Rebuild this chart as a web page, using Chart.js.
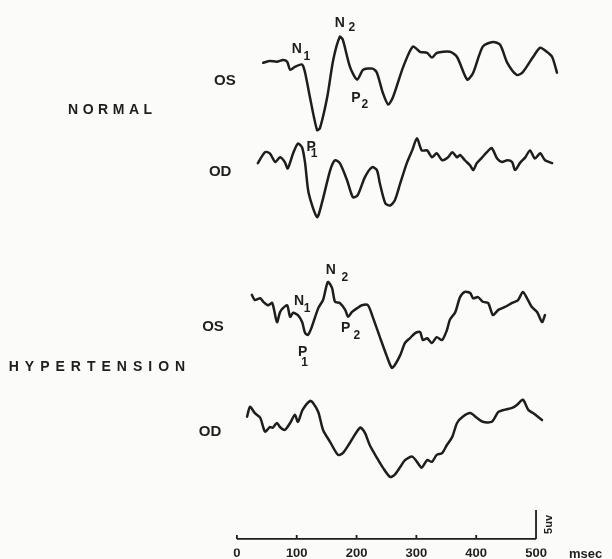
<!DOCTYPE html>
<html>
<head>
<meta charset="utf-8">
<title>VEP - normal vs hypertension</title>
<script src="https://cdn.jsdelivr.net/npm/chart.js@4.4.0/dist/chart.umd.min.js"></script>
<style>
  html, body { margin: 0; padding: 0; background: #fbfbf9; }
  #wrap { position: relative; width: 612px; height: 559px; }
</style>
</head>
<body>
<div id="wrap"><canvas id="vep"></canvas></div>
<script>
// [time in msec, amplitude in uV relative to the trace's own baseline]
const normalOS = [
  [44, 0], [55, 0.3], [67, 0.2], [77, 0.5], [84, 0.2], [89, -1.2], [97, -0.7],
  [109, -0.3], [114, -1.7], [122, -5.9], [134, -11.6], [139, -11.2], [151, -5.9],
  [161, 0.5], [172, 4.5], [177, 4.0], [189, -0.7], [201, -2.9], [211, -1.2],
  [227, -1.0], [234, -1.7], [244, -5.2], [253, -7.2], [261, -5.9], [278, -0.7],
  [294, 2.8], [306, 1.9], [318, 1.7], [326, 0.9], [334, 1.7], [356, 1.9],
  [368, 1.0], [385, -2.9], [395, -1.7], [411, 2.8], [428, 3.6], [440, 3.1],
  [452, 0], [468, -2.1], [478, -1.6], [495, 1.0], [507, 2.6], [518, 1.9],
  [527, 1.0], [535, -1.7]
];
const normalOD = [
  [35, -0.5], [47, 1.4], [55, 1.2], [64, -0.3], [72, 0.5], [80, -0.3], [85, -1.4],
  [94, 1.2], [102, 2.9], [109, 2.2], [114, -0.5], [120, -5.7], [134, -9.8],
  [142, -7.4], [156, -1.7], [164, 0], [172, -0.5], [184, -3.4], [194, -6.4],
  [202, -6.0], [214, -2.9], [226, -1.2], [234, -1.7], [239, -4.0], [248, -7.4],
  [256, -7.8], [264, -6.9], [273, -4.0], [284, -0.5], [293, 1.7], [301, 3.8],
  [309, 1.7], [318, 1.7], [326, 0.5], [334, 1.2], [343, 0], [353, 0.5],
  [360, 1.4], [368, 0.5], [373, 0.9], [381, 0], [390, -0.9], [395, -1.7],
  [401, -0.5], [410, 0.5], [418, 1.4], [426, 2.1], [435, 0.3], [443, -0.3],
  [452, 0], [460, -0.3], [465, -1.7], [473, -0.5], [482, 0.5], [490, 1.7],
  [498, 0.3], [507, 1.2], [515, 0], [527, -0.5]
];
const hyperOS = [
  [25, 0.9], [30, 0], [39, 0.3], [44, -0.3], [52, -0.9], [59, -0.5], [67, -3.8],
  [72, -2.1], [77, -1.4], [84, -0.9], [89, -2.9], [94, -2.2], [102, -2.6],
  [109, -3.8], [114, -5.7], [119, -6.0], [125, -4.7], [136, -1.4], [144, 0],
  [152, 3.1], [159, 2.1], [164, -0.3], [172, -0.5], [181, -1.7], [186, -2.9],
  [192, -2.1], [201, -1.4], [209, -0.9], [219, -0.9], [227, -2.9], [239, -6.4],
  [251, -9.8], [259, -11.7], [264, -11.2], [273, -9.5], [281, -7.4], [289, -6.6],
  [298, -5.7], [306, -5.5], [311, -6.9], [318, -6.6], [326, -7.4], [334, -6.4],
  [343, -6.9], [351, -5.2], [356, -3.4], [365, -2.1], [373, 0.5], [381, 1.4],
  [390, 1.2], [395, 0.3], [403, 0.5], [411, -0.3], [420, -0.5], [428, -2.6],
  [437, -1.7], [448, -1.2], [460, -0.5], [470, 0], [478, 1.4], [485, 0.3],
  [493, -1.2], [502, -2.1], [510, -3.8], [515, -2.6]
];
const hyperOD = [
  [17, -0.3], [22, 1.4], [30, 0.3], [39, -0.5], [47, -2.9], [55, -2.1], [60, -2.2],
  [67, -1.4], [72, -2.1], [80, -2.6], [89, -1.4], [97, 0], [102, -1.2], [110, 0.9],
  [122, 2.4], [127, 2.1], [136, 0.5], [144, -2.6], [156, -4.7], [169, -6.9],
  [177, -6.6], [189, -4.8], [206, -2.2], [214, -3.1], [222, -5.2], [234, -7.4],
  [244, -9.1], [256, -10.7], [264, -10.3], [273, -9.0], [281, -7.8], [293, -7.2],
  [301, -8.1], [309, -9.1], [318, -7.8], [326, -8.1], [334, -6.9], [343, -6.6],
  [351, -5.2], [360, -3.8], [368, -1.4], [378, -0.3], [390, 0.3], [401, -0.5],
  [411, -1.2], [426, -1.2], [437, 0.5], [448, 0.9], [460, 1.2], [468, 1.7],
  [478, 2.6], [487, 0.9], [495, 0.3], [510, -0.9]
];

const traces = [normalOS, normalOD, hyperOS, hyperOD];
const traceNames = ["NORMAL OS", "NORMAL OD", "HYPERTENSION OS", "HYPERTENSION OD"];
const timeTicks = [0, 100, 200, 300, 400, 500];
const scaleBarUv = 5;

// vertical position of each trace's baseline on the shared uV scale
const traceOffsets = [82.1, 65.3, 41.2, 21.4];

const groupLabels = [
  { text: "NORMAL", x: -212, y: 74.0, spacing: 4.5 },
  { text: "HYPERTENSION", x: -234, y: 29.7, spacing: 6 }
];
const eyeLabels = [
  { text: "OS", x: -20, y: 79.0 },
  { text: "OD", x: -28, y: 63.3 },
  { text: "OS", x: -40, y: 36.6 },
  { text: "OD", x: -45, y: 18.4 }
];
const peakLabels = [
  { text: "N", sub: "1", x: 100, y: 84.5, dx: 10, dy: 8 },
  { text: "N", sub: "2", x: 172, y: 89.0, dx: 12, dy: 5 },
  { text: "P", sub: "2", x: 199, y: 76.0, dx: 9, dy: 6 },
  { text: "P", sub: "1", x: 124, y: 67.6, dx: 3, dy: 7 },
  { text: "N", sub: "2", x: 157, y: 46.4, dx: 14, dy: 8 },
  { text: "N", sub: "1", x: 104, y: 41.0, dx: 8, dy: 8 },
  { text: "P", sub: "2", x: 182, y: 36.4, dx: 11, dy: 8 },
  { text: "P", sub: "1", x: 110, y: 32.2, dx: 2, dy: 10 }
];

const INK = "#1e1e1e";
const FONT = "'Liberation Sans', Arial, sans-serif";

const overlay = {
  id: "overlay",
  afterDatasetsDraw(chart) {
    const { ctx, scales: { x, y } } = chart;
    ctx.save();
    ctx.strokeStyle = INK;
    ctx.fillStyle = INK;

    // time axis with upward ticks, and the 5 uV calibration bar at 500 ms
    const y0 = y.getPixelForValue(0);
    const last = timeTicks[timeTicks.length - 1];
    ctx.lineWidth = 1.8;
    ctx.beginPath();
    ctx.moveTo(x.getPixelForValue(timeTicks[0]), y0);
    ctx.lineTo(x.getPixelForValue(last), y0);
    timeTicks.slice(0, -1).forEach(t => {
      const px = x.getPixelForValue(t);
      ctx.moveTo(px, y0);
      ctx.lineTo(px, y0 - 4);
    });
    ctx.moveTo(x.getPixelForValue(last), y0);
    ctx.lineTo(x.getPixelForValue(last), y.getPixelForValue(scaleBarUv));
    ctx.stroke();

    ctx.textBaseline = "middle";
    ctx.font = "bold 13px " + FONT;
    ctx.textAlign = "left";
    ctx.fillText("msec", x.getPixelForValue(last) + 33, x.bottom - 5);

    // "5uv" written upward next to the bar
    ctx.save();
    ctx.translate(x.getPixelForValue(last) + 13, y.getPixelForValue(scaleBarUv / 2));
    ctx.rotate(-Math.PI / 2);
    ctx.textAlign = "center";
    ctx.font = "bold 11px " + FONT;
    ctx.fillText("5uv", 0, 0);
    ctx.restore();

    ctx.textAlign = "center";
    ctx.font = "bold 14px " + FONT;
    groupLabels.forEach(l => {
      ctx.letterSpacing = l.spacing + "px";
      ctx.fillText(l.text, x.getPixelForValue(l.x) + l.spacing / 2, y.getPixelForValue(l.y));
    });
    ctx.letterSpacing = "0px";
    ctx.font = "bold 15px " + FONT;
    eyeLabels.forEach(l => {
      ctx.fillText(l.text, x.getPixelForValue(l.x), y.getPixelForValue(l.y));
    });

    peakLabels.forEach(l => {
      const px = x.getPixelForValue(l.x);
      const py = y.getPixelForValue(l.y);
      ctx.font = "bold 14px " + FONT;
      ctx.fillText(l.text, px, py);
      ctx.font = "bold 12px " + FONT;
      ctx.fillText(l.sub, px + l.dx, py + l.dy);
    });
    ctx.restore();
  }
};

new Chart(document.getElementById("vep"), {
  type: "line",
  data: {
    datasets: traces.map((trace, i) => ({
      label: traceNames[i],
      data: trace.map(([t, v]) => ({ x: t, y: v + traceOffsets[i] })),
      borderColor: INK,
      borderWidth: 2.5,
      borderJoinStyle: "round",
      borderCapStyle: "round",
      pointRadius: 0,
      tension: 0.25,
      fill: false
    }))
  },
  options: {
    responsive: true,
    maintainAspectRatio: false,
    animation: false,
    layout: { padding: 0 },
    plugins: {
      legend: { display: false },
      tooltip: { enabled: false }
    },
    scales: {
      x: {
        type: "linear",
        min: -396,
        max: 627,
        grid: { display: false, drawTicks: false },
        border: { display: false },
        afterBuildTicks: axis => {
          axis.ticks = timeTicks.map(v => ({ value: v }));
        },
        ticks: {
          padding: 0,
          color: INK,
          font: { family: FONT, size: 13, weight: "bold", lineHeight: 0.8 }
        }
      },
      y: {
        type: "linear",
        display: false,
        min: -1.66,
        max: 92.93
      }
    }
  },
  plugins: [overlay]
});
</script>
</body>
</html>
